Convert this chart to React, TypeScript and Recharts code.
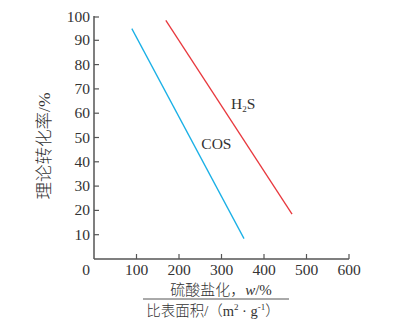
import React from 'react';
import { LineChart, Line, XAxis, YAxis, ReferenceDot } from 'recharts';

// 硫酸盐化 vs 比表面积 (two straight lines)
const cosData = [
  { x: 89, y: 94.8 },
  { x: 353, y: 8.4 },
];
const h2sData = [
  { x: 169, y: 98.2 },
  { x: 466, y: 18.5 },
];
const xTicks = [0, 100, 200, 300, 400, 500, 600];
const yTicks = [10, 20, 30, 40, 50, 60, 70, 80, 90, 100];
const labelSpots = [
  { name: 'H2S', x: 351, y: 63.8 },
  { name: 'COS', x: 288, y: 47.3 },
];

const FONT = '"Liberation Serif", "Times New Roman", serif';
const CJK = '"Liberation Serif", "Noto Sans CJK SC", serif';
const INK = '#333';
const AXIS = '#555';

const XTick = (props: any) => {
  const { x, y, payload } = props;
  const v = payload.value;
  return (
    <g>
      {v !== 0 && <line x1={x} y1={y} x2={x} y2={y - 5} stroke={AXIS} strokeWidth={1.2} />}
      <text
        x={v === 0 ? x - 4 : x}
        y={y + 16}
        textAnchor={v === 0 ? 'end' : 'middle'}
        fontFamily={FONT}
        fontSize={15.5}
        fill={INK}
      >
        {v}
      </text>
    </g>
  );
};

const YTick = (props: any) => {
  const { x, y, payload } = props;
  return (
    <g>
      <line x1={x} y1={y} x2={x + 5} y2={y} stroke={AXIS} strokeWidth={1.2} />
      <text x={x - 4} y={y + 5} textAnchor="end" fontFamily={FONT} fontSize={15.5} fill={INK}>
        {payload.value}
      </text>
    </g>
  );
};

const XTitle = (props: any) => {
  const vb = props.viewBox;
  const cx = vb.x + vb.width / 2 - 5.5;
  const ly = vb.y + 40;
  return (
    <g fontFamily={CJK} fill={INK} fontWeight={300}>
      <text x={cx + 5} y={ly - 4} textAnchor="middle" fontSize={15}>
        硫酸盐化，<tspan fontStyle="italic">w</tspan>/%
      </text>
      <line x1={cx - 73} y1={ly} x2={cx + 73} y2={ly} stroke={AXIS} strokeWidth={1} />
      <text x={cx - 3} y={ly + 17} textAnchor="middle" fontSize={14.5}>
        比表面积/（m<tspan fontSize={9} dy={-6}>2</tspan>
        <tspan dy={6}> · g</tspan>
        <tspan fontSize={9} dy={-6}>-1</tspan>
        <tspan dy={6}>）</tspan>
      </text>
    </g>
  );
};

const YTitle = (props: any) => {
  const vb = props.viewBox;
  const cx = vb.x - 10;
  const cy = vb.y + vb.height / 2 + 8.5;
  return (
    <text
      x={cx}
      y={cy}
      transform={`rotate(-90 ${cx} ${cy})`}
      textAnchor="middle"
      dominantBaseline="central"
      fontFamily={CJK}
      fontSize={17.5}
      fontWeight={300}
      fill={INK}
    >
      理论转化率/%
    </text>
  );
};

const SpotLabel = (name: string) => (props: any) => {
  const vb = props.viewBox;
  const cx = vb.x + (vb.width || 0) / 2;
  const cy = vb.y + (vb.height || 0) / 2 + 5;
  if (name === 'H2S') {
    return (
      <text x={cx} y={cy} textAnchor="middle" fontFamily={FONT} fontSize={15.5} fill={INK}>
        H<tspan fontSize={9} dy={3}>2</tspan>
        <tspan dy={-3}>S</tspan>
      </text>
    );
  }
  return (
    <text x={cx} y={cy} textAnchor="middle" fontFamily={FONT} fontSize={15.5} fill={INK}>
      {name}
    </text>
  );
};

export default function App() {
  return (
    <div style={{ width: 399, height: 315, background: '#fff' }}>
      <LineChart width={399} height={315} margin={{ top: 8, right: 58, bottom: 34, left: 46 }}>
        <XAxis
          type="number"
          dataKey="x"
          domain={[0, 600]}
          ticks={xTicks}
          tick={<XTick />}
          tickLine={false}
          tickSize={0}
          tickMargin={0}
          height={30}
          stroke={AXIS}
          strokeWidth={1.5}
          allowDataOverflow
          label={{ content: <XTitle /> }}
        />
        <YAxis
          type="number"
          domain={[0, 100]}
          ticks={yTicks}
          tick={<YTick />}
          tickLine={false}
          tickSize={0}
          tickMargin={0}
          width={40}
          stroke={AXIS}
          strokeWidth={1.5}
          allowDataOverflow
          label={{ content: <YTitle /> }}
        />
        <Line
          data={cosData}
          dataKey="y"
          type="linear"
          stroke="#1ab0e6"
          strokeWidth={1.3}
          dot={false}
          isAnimationActive={false}
        />
        <Line
          data={h2sData}
          dataKey="y"
          type="linear"
          stroke="#e8383d"
          strokeWidth={1.3}
          dot={false}
          isAnimationActive={false}
        />
        {labelSpots.map((s) => (
          <ReferenceDot
            key={s.name}
            x={s.x}
            y={s.y}
            r={0}
            fill="none"
            stroke="none"
            label={{ content: SpotLabel(s.name) }}
          />
        ))}
      </LineChart>
    </div>
  );
}
